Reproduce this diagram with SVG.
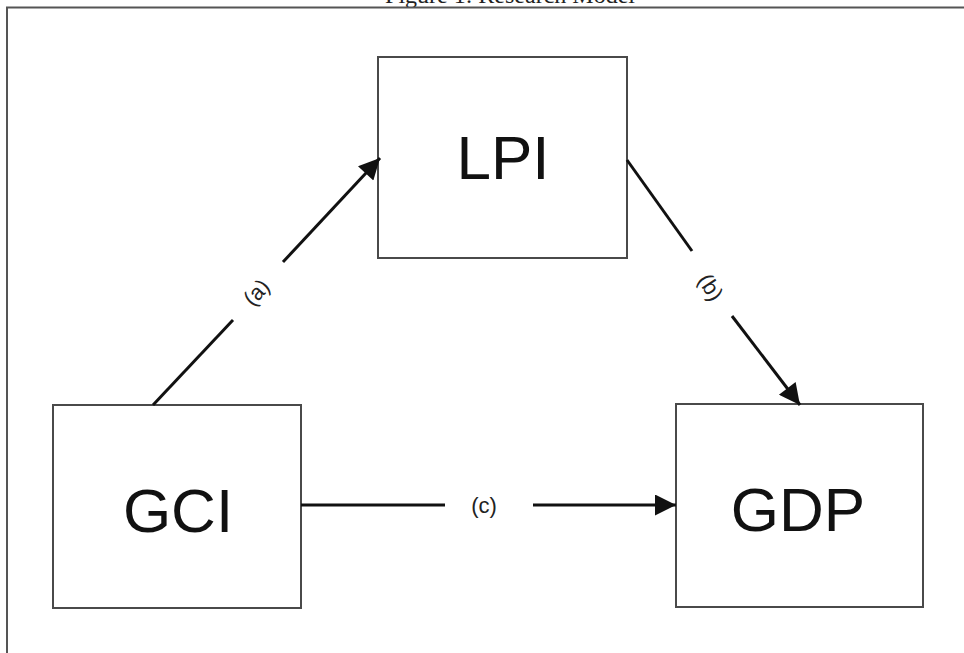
<svg xmlns="http://www.w3.org/2000/svg" width="964" height="653" viewBox="0 0 964 653">
<style>
.box{fill:#fff;stroke:#4a4a4a;stroke-width:2}
.big{font-family:"Liberation Sans",Arial,sans-serif;font-size:62px;fill:#111;text-anchor:middle}
.lbl{font-family:"Liberation Sans",Arial,sans-serif;font-size:22px;fill:#222;text-anchor:middle}
.ln{stroke:#111;stroke-width:3;fill:none}
</style>
<defs>
<marker id="ah" viewBox="0 0 10 10" refX="10" refY="5" markerWidth="8.5" markerHeight="7" markerUnits="strokeWidth" orient="auto">
<path d="M0,0 L10,5 L0,10 z" fill="#111"/>
</marker>
</defs>
<rect width="964" height="653" fill="#fff"/>
<text x="510" y="3" font-family="'Liberation Serif','Times New Roman',serif" font-size="24" text-anchor="middle" fill="#222">Figure 1: Research Model</text>
<path d="M7,653 V7.5 H964" fill="none" stroke="#555" stroke-width="2"/>
<g id="LPI"><rect class="box" x="378" y="57" width="249" height="201"/><text class="big" x="503" y="179">LPI</text></g>
<g id="GCI"><rect class="box" x="53" y="405" width="248" height="203"/><text class="big" x="178" y="532">GCI</text></g>
<g id="GDP"><rect class="box" x="676" y="404" width="247" height="203"/><text class="big" x="798" y="531">GDP</text></g>
<g id="connectors">
<line class="ln" x1="153" y1="405" x2="233" y2="320"/>
<line class="ln" x1="283" y1="262" x2="380" y2="158" marker-end="url(#ah)"/>
<text class="lbl" transform="translate(256,292) rotate(-47)" y="8">(a)</text>
<line class="ln" x1="627" y1="160" x2="692" y2="251"/>
<line class="ln" x1="732" y1="316" x2="800" y2="405" marker-end="url(#ah)"/>
<text class="lbl" transform="translate(711,287) rotate(57)" y="8">(b)</text>
<line class="ln" x1="301" y1="505" x2="445" y2="505"/>
<line class="ln" x1="533" y1="505" x2="676" y2="505" marker-end="url(#ah)"/>
<text class="lbl" x="484" y="513">(c)</text>
</g>
</svg>
